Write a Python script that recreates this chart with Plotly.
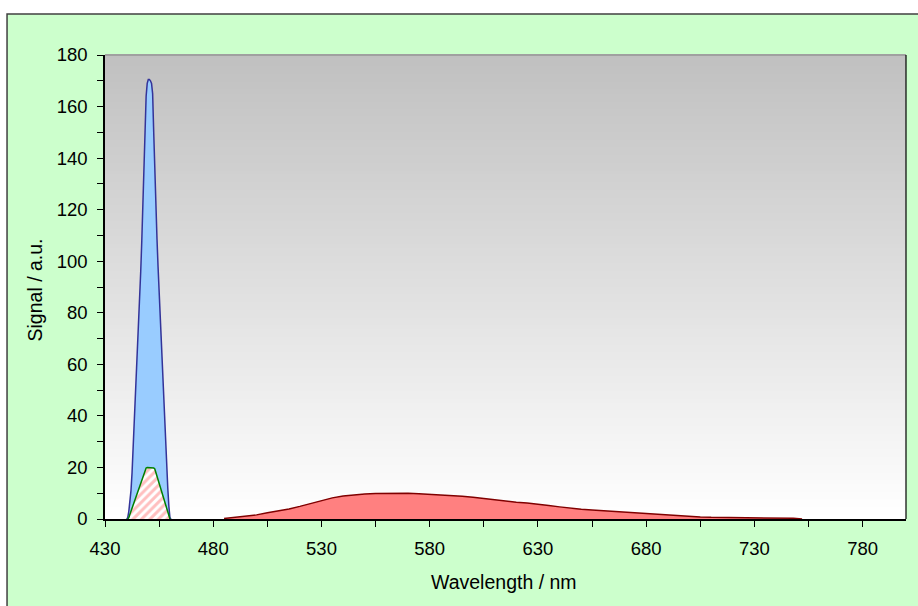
import plotly.graph_objects as go

# ---------------- data ----------------
blue_wl = [440.0, 440.5, 441.0, 441.5, 442.0, 442.5, 443.0, 443.5, 444.0, 444.5,
           445.0, 445.5, 446.0, 446.5, 447.0, 447.5, 448.0, 448.5, 449.0, 449.5,
           450.0, 450.5, 451.0, 451.5, 452.0, 452.5, 453.0, 453.5, 454.0, 454.5,
           455.0, 455.5, 456.0, 456.5, 457.0, 457.5, 458.0, 458.5, 459.0, 459.5,
           460.0, 460.5]
blue_sig = [0, 0.5, 3, 7, 11, 18, 27, 36, 46, 56,
            66, 76, 86, 96, 108, 123, 140, 152, 164, 169,
            170.5, 170.5, 170, 169, 165, 150, 133, 120, 109, 98,
            88, 78, 68, 58, 48, 38, 29, 20, 12, 5,
            0.5, 0]

green_wl = [440.5, 441.0, 441.5, 442.0, 442.5, 443.0, 443.5, 444.0, 444.5, 445.0,
            445.5, 446.0, 446.5, 447.0, 447.5, 448.0, 448.5, 449.0, 449.5, 450.0,
            450.5, 451.0, 451.5, 452.0, 452.5, 453.0, 453.5, 454.0, 454.5, 455.0,
            455.5, 456.0, 456.5, 457.0, 457.5, 458.0, 458.5, 459.0, 459.5, 460.0]
green_sig = [0, 0.5, 1.8, 3.0, 4.2, 5.5, 6.7, 7.9, 9.1, 10.3,
             11.5, 12.7, 13.9, 15.2, 16.4, 17.6, 18.8, 19.8, 20, 20,
             20, 20, 20, 20, 19.8, 19.4, 18.0, 16.5, 15.1, 13.6,
             12.2, 10.7, 9.3, 7.8, 6.4, 4.9, 3.5, 2.0, 0.6, 0]

red_wl = [485, 490, 495, 500, 505, 510, 515, 520, 525, 530,
          535, 540, 545, 550, 555, 560, 565, 570, 575, 580,
          585, 590, 595, 600, 605, 610, 615, 620, 625, 630,
          635, 640, 645, 650, 655, 660, 665, 670, 675, 680,
          685, 690, 695, 700, 705, 710, 720, 730, 740, 748, 752]
red_sig = [0.2, 0.65, 1.0, 1.6, 2.4, 3.1, 3.9, 4.9, 6.0, 7.2,
           8.2, 8.9, 9.4, 9.7, 9.9, 10.0, 10.0, 9.95, 9.8, 9.6,
           9.4, 9.1, 8.8, 8.4, 7.9, 7.3, 6.9, 6.5, 6.2, 5.8,
           5.2, 4.7, 4.2, 3.8, 3.5, 3.2, 2.9, 2.6, 2.3, 2.0,
           1.8, 1.5, 1.2, 1.0, 0.8, 0.65, 0.6, 0.55, 0.45, 0.3, 0]

x_tick_vals = list(range(430, 806, 25))
x_tick_text = [str(v) if (v - 430) % 50 == 0 else "" for v in x_tick_vals]
y_tick_vals = list(range(0, 181, 10))
y_tick_text = [str(v) if v % 20 == 0 else "" for v in y_tick_vals]

x_title = "Wavelength / nm"
y_title = "Signal / a.u."

FONT = "Liberation Sans, Arial, sans-serif"

fig = go.Figure()

fig.add_trace(go.Scatter(
    x=red_wl, y=red_sig, mode="lines", fill="tozeroy",
    fillcolor="#FF8080", line=dict(color="#800000", width=1.5),
    hoverinfo="skip", showlegend=False))

fig.add_trace(go.Scatter(
    x=blue_wl, y=blue_sig, mode="lines", fill="tozeroy",
    fillcolor="#99CCFF", line=dict(color="#333399", width=1.5),
    hoverinfo="skip", showlegend=False))

fig.add_trace(go.Scatter(
    x=green_wl, y=green_sig, mode="lines", fill="tozeroy",
    fillcolor="rgba(0,0,0,0)",
    fillpattern=dict(shape="/", fgcolor="#FF8080", bgcolor="#FFFFFF",
                     size=6, solidity=0.5),
    line=dict(color="#008000", width=1.5),
    hoverinfo="skip", showlegend=False))

shapes = []
# chart area (green) with border
shapes.append(dict(type="rect", xref="paper", yref="paper",
                   x0=-0.1223, x1=1.2, y0=-0.4, y1=1.0884,
                   fillcolor="#CCFFCC", line=dict(color="#404040", width=1.5),
                   layer="below"))
# plot area gradient (gray at top to white at bottom)
N = 120
for i in range(N):
    t = (i + 0.5) / N  # 0 bottom .. 1 top
    c = int(round(255 - (255 - 192) * t))
    shapes.append(dict(type="rect", xref="paper", yref="paper",
                       x0=0, x1=1, y0=i / N, y1=(i + 1) / N + 0.002,
                       fillcolor=f"rgb({c},{c},{c})", line=dict(width=0),
                       layer="below"))
# plot area frame: top gray, right black
shapes.append(dict(type="line", xref="paper", yref="paper", x0=0, x1=1, y0=1, y1=1,
                   line=dict(color="#808080", width=1), layer="above"))
shapes.append(dict(type="line", xref="paper", yref="paper", x0=1, x1=1, y0=0, y1=1,
                   line=dict(color="#000000", width=1.2), layer="above"))

fig.update_layout(
    width=918, height=606,
    margin=dict(l=105, r=12, t=55, b=87),
    paper_bgcolor="#FFFFFF",
    plot_bgcolor="rgba(0,0,0,0)",
    font=dict(family=FONT, size=18.5, color="#000000"),
    shapes=shapes,
    showlegend=False,
    annotations=[
        dict(text=x_title, xref="paper", yref="paper", x=0.498, y=-0.1358,
             xanchor="center", yanchor="middle", showarrow=False,
             font=dict(family=FONT, size=19.5, color="#000000")),
        dict(text=y_title, xref="paper", yref="paper", x=-0.0868, y=0.4935,
             xanchor="center", yanchor="middle", showarrow=False, textangle=-90,
             font=dict(family=FONT, size=19.5, color="#000000")),
    ],
)

fig.update_xaxes(
    range=[430, 800], showgrid=False, zeroline=False,
    showline=True, linecolor="#000000", linewidth=1.5,
    tickmode="array", tickvals=x_tick_vals, ticktext=x_tick_text,
    ticks="outside", ticklen=6, tickcolor="#000000", tickwidth=1,
    ticklabelstandoff=6,
)
fig.update_yaxes(
    range=[0, 180], showgrid=False, zeroline=False,
    showline=True, linecolor="#000000", linewidth=1.5,
    tickmode="array", tickvals=y_tick_vals, ticktext=y_tick_text,
    ticks="outside", ticklen=6, tickcolor="#000000", tickwidth=1,
    ticklabelstandoff=6,
)

fig.write_html("out.html")
